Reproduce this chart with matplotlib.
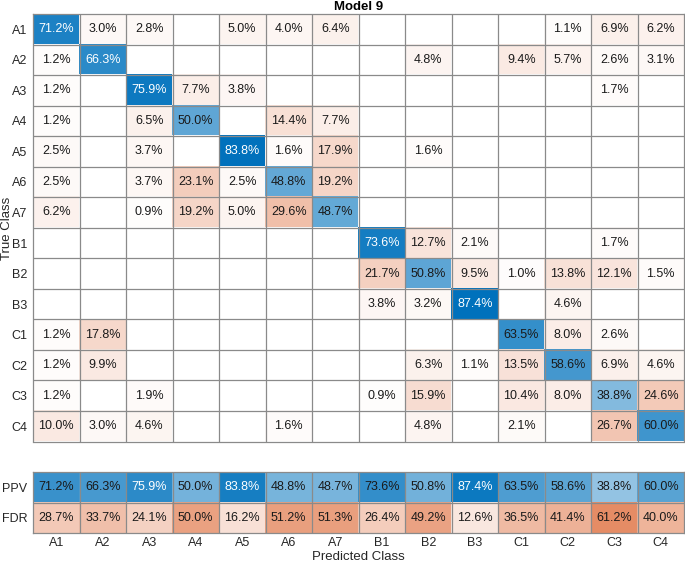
import numpy as np
import matplotlib
matplotlib.use("Agg")
import matplotlib.pyplot as plt

plt.rcParams['font.family'] = ['Liberation Sans', 'DejaVu Sans']

classes = ["A1", "A2", "A3", "A4", "A5", "A6", "A7", "B1", "B2", "B3", "C1", "C2", "C3", "C4"]
N = np.nan
matrix = [
    [71.2, 3.0, 2.8, N, 5.0, 4.0, 6.4, N, N, N, N, 1.1, 6.9, 6.2],
    [1.2, 66.3, N, N, N, N, N, N, 4.8, N, 9.4, 5.7, 2.6, 3.1],
    [1.2, N, 75.9, 7.7, 3.8, N, N, N, N, N, N, N, 1.7, N],
    [1.2, N, 6.5, 50.0, N, 14.4, 7.7, N, N, N, N, N, N, N],
    [2.5, N, 3.7, N, 83.8, 1.6, 17.9, N, 1.6, N, N, N, N, N],
    [2.5, N, 3.7, 23.1, 2.5, 48.8, 19.2, N, N, N, N, N, N, N],
    [6.2, N, 0.9, 19.2, 5.0, 29.6, 48.7, N, N, N, N, N, N, N],
    [N, N, N, N, N, N, N, 73.6, 12.7, 2.1, N, N, 1.7, N],
    [N, N, N, N, N, N, N, 21.7, 50.8, 9.5, 1.0, 13.8, 12.1, 1.5],
    [N, N, N, N, N, N, N, 3.8, 3.2, 87.4, N, 4.6, N, N],
    [1.2, 17.8, N, N, N, N, N, N, N, N, 63.5, 8.0, 2.6, N],
    [1.2, 9.9, N, N, N, N, N, N, 6.3, 1.1, 13.5, 58.6, 6.9, 4.6],
    [1.2, N, 1.9, N, N, N, N, 0.9, 15.9, N, 10.4, 8.0, 38.8, 24.6],
    [10.0, 3.0, 4.6, N, N, 1.6, N, N, 4.8, N, 2.1, N, 26.7, 60.0],
]
ppv = [71.2, 66.3, 75.9, 50.0, 83.8, 48.8, 48.7, 73.6, 50.8, 87.4, 63.5, 58.6, 38.8, 60.0]
fdr = [28.7, 33.7, 24.1, 50.0, 16.2, 51.2, 51.3, 26.4, 49.2, 12.6, 36.5, 41.4, 61.2, 40.0]
summary_labels = ["PPV", "FDR"]

BLUE = np.array([0.0, 0.447, 0.741])
RED = np.array([0.85, 0.325, 0.098])
WHITE = np.array([1.0, 1.0, 1.0])


def cell_color(v, base, scale):
    if np.isnan(v):
        return WHITE, 0.0
    t = min(1.0, v / scale)
    return WHITE * (1 - t) + base * t, t


fig = plt.figure(figsize=(6.85, 5.63), dpi=100)
W, H = 685, 563
ax = fig.add_axes([33 / W, 1 - 441.5 / H, 651 / W, (441.5 - 14) / H])
ax2 = fig.add_axes([33 / W, 1 - 533 / H, 651 / W, (533 - 472) / H])

n = len(classes)
M = np.array(matrix, dtype=float)
img = np.ones((n, n, 3))
fs = 9
for i in range(n):
    for j in range(n):
        v = M[i, j]
        base = BLUE if i == j else RED
        c, t = cell_color(v, base, 80.0)
        img[i, j] = c
        if not np.isnan(v):
            ax.text(j, i, f"{v:.1f}%", ha='center', va='center', fontsize=fs,
                    color='white' if t > 0.81 else '#1a1a1a')
ax.imshow(img, aspect='auto', interpolation='nearest', extent=(-0.5, n - 0.5, n - 0.5, -0.5))

simg = np.ones((2, n, 3))
for r, (vals, base) in enumerate([(ppv, BLUE), (fdr, RED)]):
    for j, v in enumerate(vals):
        c, t = cell_color(v, base, 92.0)
        simg[r, j] = c
        ax2.text(j, r, f"{v:.1f}%", ha='center', va='center', fontsize=fs,
                 color='white' if t > 0.81 else '#1a1a1a')
ax2.imshow(simg, aspect='auto', interpolation='nearest', extent=(-0.5, n - 0.5, 1.5, -0.5))

grid_c = '#8a8a8a'
for a, rows in [(ax, n), (ax2, 2)]:
    for k in range(1, rows):
        a.axhline(k - 0.5, color=grid_c, lw=0.9)
    for k in range(1, n):
        a.axvline(k - 0.5, color=grid_c, lw=0.9)
    for s in a.spines.values():
        s.set_color(grid_c)
        s.set_linewidth(0.9)
    a.tick_params(length=0, labelsize=9, colors='#262626', pad=4)

ax.set_yticks(range(n))
ax.set_yticklabels(classes)
ax.set_xticks([])
ax2.set_yticks(range(2))
ax2.set_yticklabels(summary_labels)
ax2.set_xticks(range(n))
ax2.set_xticklabels(classes)
ax2.tick_params(axis='x', pad=3)

fig.text(7 / W, 1 - 228 / H, "True Class", rotation=90, ha='center', va='center',
         fontsize=9.5, color='#262626')
fig.text(358 / W, 1 - 557 / H, "Predicted Class", ha='center', va='center',
         fontsize=9.5, color='#262626')
ax.set_title("Model 9", fontsize=9.5, fontweight='bold', pad=3)

fig.savefig("out.png", dpi=100)
